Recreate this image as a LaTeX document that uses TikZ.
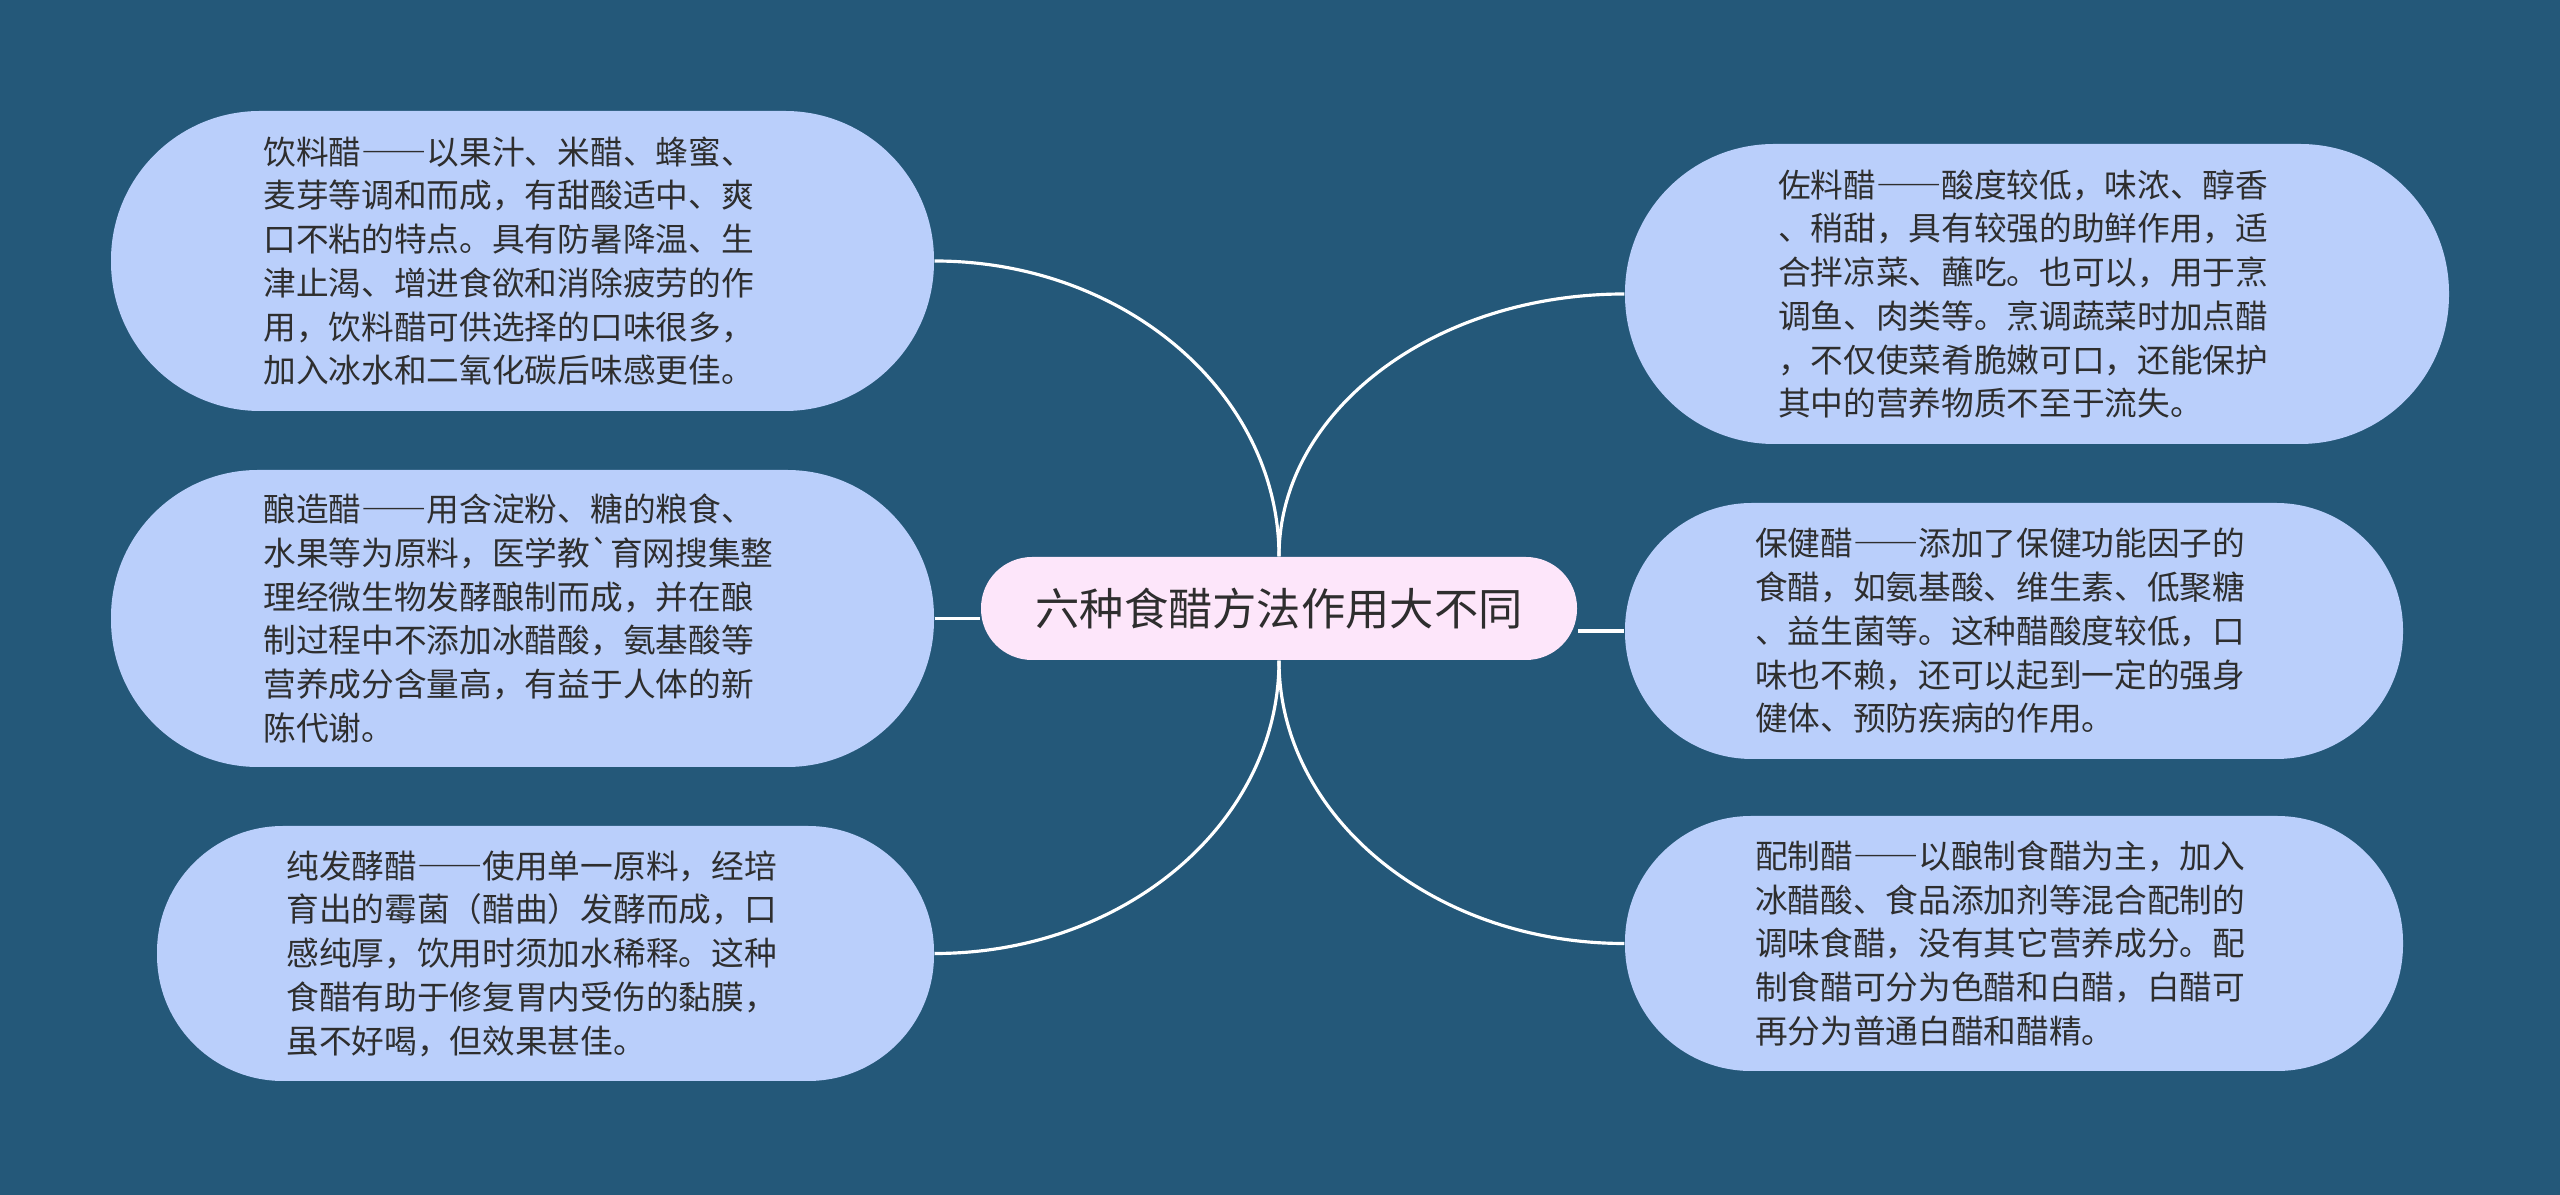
\documentclass[tikz,border=0pt]{standalone}
\usepackage{fontspec}
\newfontfamily\cjk{Noto Sans CJK SC}
\newfontfamily\cjkfull[CharacterWidth=Full]{Noto Sans CJK SC}
\newcommand\ddash{{\cjkfull ——}}
\usepackage{tikz}
\definecolor{bgblue}{HTML}{245879}
\definecolor{leafblue}{HTML}{BACFFB}
\definecolor{rootpink}{HTML}{FDE6FA}
\definecolor{txtgray}{HTML}{2E2E2E}

\begin{document}
\begin{tikzpicture}[
  leaf/.style={fill=leafblue,text=txtgray,font=\cjk\fontsize{9.3}{12.45}\selectfont,text width=5.18cm,align=left,inner sep=0pt},
  root/.style={fill=rootpink,text=txtgray,font=\cjk\fontsize{12.6}{15}\selectfont,inner sep=0pt},
  link/.style={white,line width=0.9pt}]
%Фон
\fill[bgblue] (0,0) rectangle (25.6,11.95);
\useasboundingbox (0,0) rectangle (25.6,11.95);
%Центральный узел
\node[root,minimum width=5.96cm,minimum height=1.03cm,rounded corners=0.51cm] (c) at (12.79,5.865) {六种食醋方法作用大不同};
%Левые узлы
\node[leaf,minimum width=8.23cm,minimum height=3cm,rounded corners=1.49cm] (l1) at (5.225,9.34) {饮料醋\ddash 以果汁、米醋、蜂蜜、\\麦芽等调和而成，有甜酸适中、爽\\口不粘的特点。具有防暑降温、生\\津止渴、增进食欲和消除疲劳的作\\用，饮料醋可供选择的口味很多，\\加入冰水和二氧化碳后味感更佳。};
\node[leaf,minimum width=8.23cm,minimum height=2.97cm,rounded corners=1.47cm] (l2) at (5.225,5.765) {酿造醋\ddash 用含淀粉、糖的粮食、\\水果等为原料，医学教`育网搜集整\\理经微生物发酵酿制而成，并在酿\\制过程中不添加冰醋酸，氨基酸等\\营养成分含量高，有益于人体的新\\陈代谢。};
\node[leaf,minimum width=7.77cm,minimum height=2.55cm,rounded corners=1.26cm] (l3) at (5.455,2.415) {纯发酵醋\ddash 使用单一原料，经培\\育出的霉菌（醋曲）发酵而成，口\\感纯厚，饮用时须加水稀释。这种\\食醋有助于修复胃内受伤的黏膜，\\虽不好喝，但效果甚佳。};
%Правые узлы
\node[leaf,minimum width=8.24cm,minimum height=3cm,rounded corners=1.49cm] (r1) at (20.37,9.01) {佐料醋\ddash 酸度较低，味浓、醇香\\、稍甜，具有较强的助鲜作用，适\\合拌凉菜、蘸吃。也可以，用于烹\\调鱼、肉类等。烹调蔬菜时加点醋\\，不仅使菜肴脆嫩可口，还能保护\\其中的营养物质不至于流失。};
\node[leaf,minimum width=7.78cm,minimum height=2.56cm,rounded corners=1.27cm] (r2) at (20.14,5.64) {保健醋\ddash 添加了保健功能因子的\\食醋，如氨基酸、维生素、低聚糖\\、益生菌等。这种醋酸度较低，口\\味也不赖，还可以起到一定的强身\\健体、预防疾病的作用。};
\node[leaf,minimum width=7.78cm,minimum height=2.55cm,rounded corners=1.26cm] (r3) at (20.14,2.515) {配制醋\ddash 以酿制食醋为主，加入\\冰醋酸、食品添加剂等混合配制的\\调味食醋，没有其它营养成分。配\\制食醋可分为色醋和白醋，白醋可\\再分为普通白醋和醋精。};
%Связи
\draw[link] (l1.east) .. controls +(1.9,0) and +(0,1.63) .. (c.north);
\draw[link] (l2.east) -- (l2.east -| c.west);
\draw[link] (l3.east) .. controls +(1.9,0) and +(0,-1.62) .. (c.south);
\draw[link] (r1.west) .. controls +(-1.91,0) and +(0,1.45) .. (c.north);
\draw[link] (r2.west) -- (r2.west -| c.east);
\draw[link] (r3.west) .. controls +(-1.91,0) and +(0,-1.56) .. (c.south);
\end{tikzpicture}
\end{document}
